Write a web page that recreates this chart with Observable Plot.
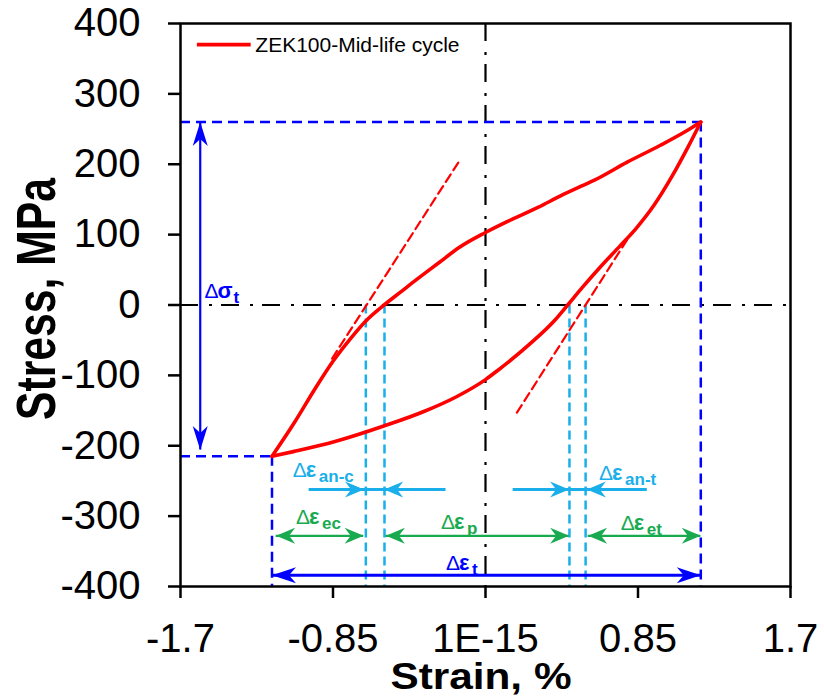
<!DOCTYPE html>
<html>
<head>
<meta charset="utf-8">
<script src="https://cdn.jsdelivr.net/npm/d3@7"></script>
<script src="https://cdn.jsdelivr.net/npm/@observablehq/plot@0.6"></script>
<style>
  html, body { margin: 0; padding: 0; background: white; }
</style>
</head>
<body>
<div id="chart"></div>
<script>
// ---- data ----
const xTicks = [-1.7, -0.85, 0, 0.85, 1.7];
const xTickLabels = ["-1.7", "-0.85", "1E-15", "0.85", "1.7"];
const yTicks = [-400, -300, -200, -100, 0, 100, 200, 300, 400];

// reloading branch (compression peak -> tension peak), ascending strain
const upperX = [-1.19, -1.065, -0.95, -0.85, -0.75, -0.66, -0.565, -0.47, -0.385, -0.26, -0.145, 0, 0.15, 0.295, 0.418, 0.544, 0.604, 0.79, 0.975, 1.124, 1.2];
const upperY = [-215, -167, -119, -80, -47, -21, 0, 19, 36, 60, 82, 103, 122, 139, 155, 170, 177, 203, 227, 248, 260];
// unloading branch (tension peak -> compression peak), listed by ascending strain
const lowerX = [-1.19, -1.065, -0.839, -0.567, -0.34, -0.159, 0, 0.068, 0.249, 0.385, 0.458, 0.54, 0.64, 0.75, 0.84, 0.94, 1.04, 1.13, 1.2];
const lowerY = [-215, -208, -194, -172, -151, -130, -106, -93, -55, -22, 0, 25, 54, 84, 109, 142, 183, 225, 260];

// elastic tangent lines
const tangentLeftX = [-0.855, -0.145];
const tangentLeftY = [-76, 205];
const tangentRightX = [0.175, 0.81];
const tangentRightY = [-153, 101];

// peaks (compression, tension)
const peakX = [-1.19, 1.2];
const peakY = [-215, 260];

// anelastic / elastic strain boundaries at zero stress
const cyanX = [-0.667, -0.563, 0.468, 0.558];

// horizontal dimension arrows
const hArrowY = [-262, -262, -328, -328, -328, -384];
const hArrowX1 = [-0.983, 0.154, -1.167, -0.555, 0.572, -1.19];
const hArrowX2 = [-0.22, 0.902, -0.679, 0.466, 1.2, 1.2];
const hArrowKind = ["cyan", "cyan", "green", "green", "green", "blue"];
// stress-range arrow
const sigmaArrowX = -1.59;
const sigmaArrowY = [-206, 260];

// arrowheads
const headRightX = [-0.677, 0.466, -0.679, 0.466, 1.2, 1.2];
const headRightY = [-262, -262, -328, -328, -328, -384];
const headRightKind = ["cyan", "cyan", "green", "green", "green", "blueBig"];
const headLeftX = [-0.565, 0.565, -1.167, -0.555, 0.572, -1.19];
const headLeftY = [-262, -262, -328, -328, -328, -384];
const headLeftKind = ["cyan", "cyan", "green", "green", "green", "blueBig"];

// annotation labels
const labelX = [-1.566, -1.074, 0.633, -1.056, -0.248, 0.754, -0.22];
const labelY = [9.5, -244, -248, -311, -319, -320, -377];
const labelSym = ["σ", "ε", "ε", "ε", "ε", "ε", "ε"];
const labelSub = ["t", "an-c", "an-t", "ec", "p", "et", "t"];
const labelSubDx = [29, 26, 26, 26, 26, 26, 26];
const labelKind = ["blue", "cyan", "cyan", "green", "green", "green", "blue"];

const legendX = [-1.606, -1.306];
const legendY = 370;
const legendTextX = -1.283;
const legendTextY = 359;
const legendLabel = "ZEK100-Mid-life cycle";

// ---- styling ----
const colors = {red: "#ff0000", blue: "#0000ff", cyan: "#1aafea", green: "#19aa50"};

function headSymbol(dir, L, W, N) {
  return {
    draw(ctx) {
      const pts = [[0, 0], [-L, -W], [-N, 0], [-L, W]];
      const t = ([a, b]) => dir === "right" ? [a, b] : dir === "left" ? [-a, b] : dir === "up" ? [b, -a] : [b, a];
      pts.map(t).forEach(([px, py], i) => i === 0 ? ctx.moveTo(px, py) : ctx.lineTo(px, py));
      ctx.closePath();
    }
  };
}
const symRight = headSymbol("right", 19, 8, 13);
const symLeft = headSymbol("left", 19, 8, 13);
const symRightBig = headSymbol("right", 24, 8, 17);
const symLeftBig = headSymbol("left", 24, 8, 17);
const symUp = headSymbol("up", 24, 7.5, 17);
const symDown = headSymbol("down", 24, 7.5, 17);

const pairs = (xs, ys) => xs.map((x, i) => [x, ys[i]]);

const hArrows = hArrowX1.map((x1, i) => ({x1, x2: hArrowX2[i], y: hArrowY[i], kind: hArrowKind[i]}));
const headsR = headRightX.map((x, i) => ({x, y: headRightY[i], kind: headRightKind[i]}));
const headsL = headLeftX.map((x, i) => ({x, y: headLeftY[i], kind: headLeftKind[i]}));
const labels = labelX.map((x, i) => ({x, y: labelY[i], sym: labelSym[i], sub: labelSub[i], subDx: labelSubDx[i], kind: labelKind[i]}));

const headMarks = [];
for (const [arr, small, big] of [[headsR, symRight, symRightBig], [headsL, symLeft, symLeftBig]]) {
  for (const kind of ["cyan", "green", "blueBig"]) {
    headMarks.push(Plot.dot(arr.filter(d => d.kind === kind), {
      x: "x", y: "y", r: 5,
      symbol: kind === "blueBig" ? big : small,
      fill: kind === "blueBig" ? colors.blue : colors[kind],
      stroke: "none"
    }));
  }
}

const arrowMarks = [];
for (const kind of ["cyan", "green", "blue"]) {
  arrowMarks.push(Plot.ruleY(hArrows.filter(d => d.kind === kind), {
    x1: "x1", x2: "x2", y: "y", stroke: colors[kind],
    strokeWidth: kind === "green" ? 2.2 : 3
  }));
}

const labelMarks = [];
for (const kind of ["cyan", "green", "blue"]) {
  const c = colors[kind];
  const data = labels.filter(d => d.kind === kind);
  labelMarks.push(
    Plot.text(data, {x: "x", y: "y", text: () => "Δ", fill: c, fontSize: 21, textAnchor: "start", lineAnchor: "bottom"}),
    Plot.text(data, {x: "x", y: "y", text: "sym", fill: c, fontSize: 22, fontWeight: "bold", textAnchor: "start", lineAnchor: "bottom", dx: 13})
  );
  for (const dxv of [26, 29]) {
    const sub = data.filter(d => d.subDx === dxv);
    if (sub.length) labelMarks.push(
      Plot.text(sub, {x: "x", y: "y", text: "sub", fill: c, fontSize: 17, fontWeight: "bold", textAnchor: "start", lineAnchor: "bottom", dx: dxv, dy: 5})
    );
  }
}

const plot = Plot.plot({
  width: 824,
  height: 700,
  marginLeft: 180,
  marginRight: 34,
  marginTop: 23,
  marginBottom: 114,
  style: {fontFamily: "'Liberation Sans', Arial, Helvetica, sans-serif", background: "white", color: "black"},
  x: {domain: [-1.7, 1.7]},
  y: {domain: [-400, 400]},
  marks: [
    // zero-stress and zero-strain dash-dot lines
    Plot.ruleY([0], {stroke: "black", strokeWidth: 2.2, strokeDasharray: "18,11,3,9"}),
    Plot.ruleX([0], {stroke: "black", strokeWidth: 2.2, strokeDasharray: "18,11,3,9"}),
    // peak guides
    Plot.ruleY([peakY[1]], {x1: -1.7, x2: peakX[1], stroke: colors.blue, strokeWidth: 2.5, strokeDasharray: "10,6"}),
    Plot.ruleX([peakX[1]], {y1: peakY[1], y2: -400, stroke: colors.blue, strokeWidth: 2.5, strokeDasharray: "10,6"}),
    Plot.ruleY([peakY[0]], {x1: -1.7, x2: peakX[0], stroke: colors.blue, strokeWidth: 2.5, strokeDasharray: "10,6"}),
    Plot.ruleX([peakX[0]], {y1: peakY[0], y2: -400, stroke: colors.blue, strokeWidth: 2.5, strokeDasharray: "10,6"}),
    // cyan strain boundaries
    Plot.ruleX(cyanX, {y1: 0, y2: -400, stroke: colors.cyan, strokeWidth: 2.5, strokeDasharray: "9,5"}),
    // tangents
    Plot.line(pairs(tangentLeftX, tangentLeftY), {stroke: colors.red, strokeWidth: 2.2, strokeDasharray: "9,5"}),
    Plot.line(pairs(tangentRightX, tangentRightY), {stroke: colors.red, strokeWidth: 2.2, strokeDasharray: "9,5"}),
    // hysteresis loop
    Plot.line(pairs(upperX, upperY), {stroke: colors.red, strokeWidth: 3.6, curve: "monotone-x", strokeLinejoin: "round"}),
    Plot.line(pairs(lowerX, lowerY), {stroke: colors.red, strokeWidth: 3.6, curve: "monotone-x", strokeLinejoin: "round"}),
    // arrows
    ...arrowMarks,
    Plot.ruleX([sigmaArrowX], {y1: sigmaArrowY[0], y2: sigmaArrowY[1], stroke: colors.blue, strokeWidth: 2.2}),
    Plot.dot([[sigmaArrowX, sigmaArrowY[1]]], {r: 5, symbol: symUp, fill: colors.blue, stroke: "none"}),
    Plot.dot([[sigmaArrowX, sigmaArrowY[0]]], {r: 5, symbol: symDown, fill: colors.blue, stroke: "none"}),
    ...headMarks,
    ...labelMarks,
    // legend
    Plot.ruleY([legendY], {x1: legendX[0], x2: legendX[1], stroke: colors.red, strokeWidth: 3.6}),
    Plot.text([legendLabel], {x: legendTextX, y: legendTextY, text: d => d, fontSize: 21, textAnchor: "start", lineAnchor: "bottom", fill: "black"}),
    // frame and axes
    Plot.frame({stroke: "black", strokeWidth: 2.5}),
    Plot.axisX({ticks: xTicks, tickFormat: d => xTickLabels[xTicks.indexOf(d)], tickSize: 12, tickPadding: 25, fontSize: 40, strokeWidth: 2.5, label: null}),
    Plot.axisY({ticks: yTicks, tickFormat: d => String(d), tickSize: 12, tickPadding: 28, fontSize: 40, strokeWidth: 2.5, label: null})
  ]
});

document.getElementById("chart").appendChild(plot);

// axis titles
const svg = d3.select(plot);
svg.append("text")
  .attr("x", 481).attr("y", 689)
  .attr("text-anchor", "middle")
  .attr("font-size", 37).attr("font-weight", "bold")
  .attr("font-family", "'Liberation Sans', Arial, sans-serif")
  .attr("fill", "black")
  .attr("textLength", 181).attr("lengthAdjust", "spacingAndGlyphs")
  .text("Strain, %");
svg.append("text")
  .attr("transform", "translate(55,299) rotate(-90)")
  .attr("text-anchor", "middle")
  .attr("font-size", 56).attr("font-weight", "bold")
  .attr("font-family", "'Liberation Sans', Arial, sans-serif")
  .attr("fill", "black")
  .attr("textLength", 242).attr("lengthAdjust", "spacingAndGlyphs")
  .text("Stress, MPa");
</script>
</body>
</html>
